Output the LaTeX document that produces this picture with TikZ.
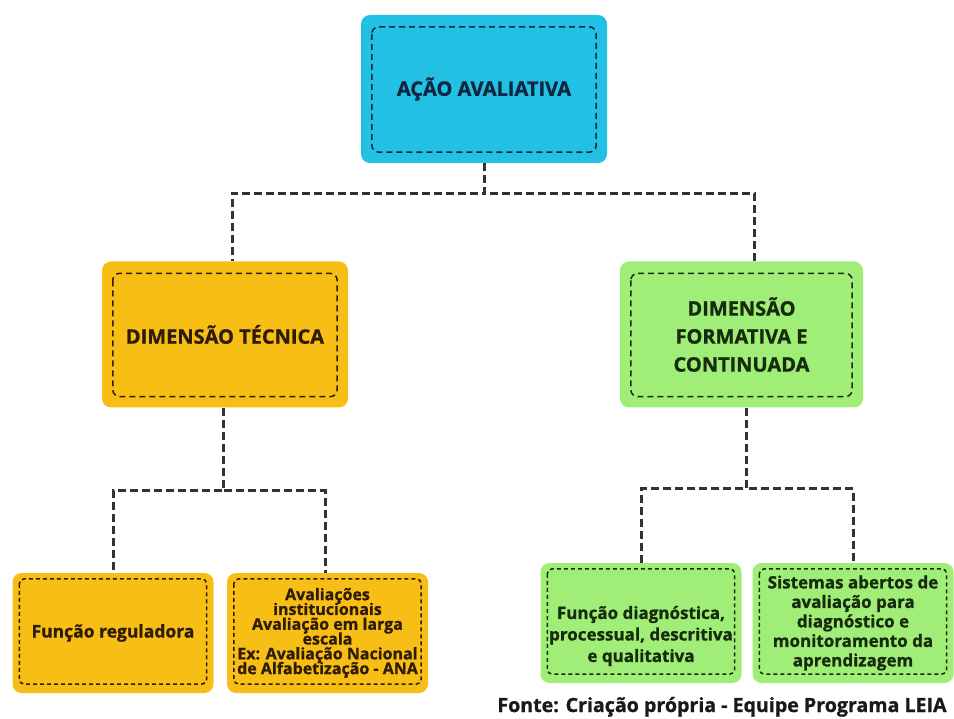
\documentclass[tikz,border=0pt]{standalone}
\usepackage{fontspec}
\setmainfont{Open Sans}[BoldFeatures={FakeBold=1}]
\usetikzlibrary{positioning}

\definecolor{ciano}{RGB}{34,193,227}
\definecolor{ouro}{RGB}{247,190,22}
\definecolor{verde}{RGB}{160,238,120}
\definecolor{marinho}{RGB}{14,38,66}
\definecolor{marrom}{RGB}{48,28,4}
\definecolor{musgo}{RGB}{22,44,12}
\newcommand\apertado{\lineskiplimit=-20pt\relax}

\begin{document}
\begin{tikzpicture}[x=1pt,y=-1pt,on grid,
    caixa/.style={rounded corners=9pt, align=center, inner sep=0pt},
    azul/.style={caixa, fill=ciano, text=marinho},
    amarela/.style={caixa, fill=ouro, text=marrom},
    verdinha/.style={caixa, fill=verde, text=musgo},
    grande/.style={minimum width=246pt, minimum height=146pt,
      font=\bfseries\fontsize{20}{28}\selectfont},
    pequena/.style={minimum width=201pt, minimum height=120pt},
    moldura/.style={draw=#1, line width=1.5pt, dash pattern=on 6pt off 4pt, rounded corners=7pt},
    tracinho/.style={draw=#1, line width=1.5pt, dash pattern=on 4pt off 3pt, rounded corners=5pt},
    link/.style={draw=black!80, line width=3pt, dash pattern=on 8pt off 4pt}]
  \useasboundingbox (0,0) rectangle (954,719);

  \node[azul,grande,minimum height=148pt] (acao) at (484,89) {AÇÃO AVALIATIVA};

  \node[amarela,grande] (tecnica) [below left=245.5pt and 259pt of acao] {DIMENSÃO TÉCNICA};
  \node[verdinha,grande,minimum width=243pt] (formativa) [below right=245.5pt and 257.5pt of acao]
    {DIMENSÃO\\FORMATIVA E\\CONTINUADA};

  \node[amarela,pequena,font=\bfseries\fontsize{17.5}{20}\selectfont] (regul)
    [below left=298.5pt and 112pt of tecnica] {\raisebox{-4pt}{Função reguladora}};
  \node[amarela,pequena,font=\bfseries\fontsize{16}{14.8}\selectfont\apertado] (inst)
    [below right=298.5pt and 102.5pt of tecnica]
    {Avaliações\\institucionais\\Avaliação em larga\\escala\\Ex: Avaliação Nacional\\de Alfabetização - ANA};

  \node[verdinha,pequena] (diag) [below left=288.5pt and 100.5pt of formativa] {};
  \node[text=musgo, align=center, font=\bfseries\fontsize{17}{21.5}\selectfont] (diagtxt)
    at ([yshift=-13pt]diag.center) {Função diagnóstica,\\processual, descritiva\\e qualitativa};
  \node[verdinha,pequena,font=\bfseries\fontsize{17}{19.5}\selectfont] (sist)
    [below right=288.5pt and 111.5pt of formativa]
    {Sistemas abertos de\\avaliação para\\diagnóstico e\\monitoramento da\\aprendizagem};

  \node[anchor=base, font=\bfseries\fontsize{19.6}{22}\selectfont, text=black!90] (fonte) at (722,712)
    {Fonte: Criação própria - Equipe Programa LEIA};

  % molduras tracejadas
  \foreach \n/\c in {acao/marinho, tecnica/marrom, formativa/musgo}
    \draw[moldura=\c] ([shift={(11pt,-12pt)}]\n.north west) rectangle ([shift={(-11pt,11pt)}]\n.south east);
  \foreach \n/\c in {regul/marrom, inst/marrom, diag/musgo, sist/musgo}
    \draw[tracinho=\c] ([shift={(7pt,-6pt)}]\n.north west) rectangle ([shift={(-7pt,9pt)}]\n.south east);

  % ligacoes
  \draw[link] (acao.south) -- ++(0,30) -| ([xshift=7pt]tecnica.north);
  \draw[link] (acao.south) -- ++(0,30) -| ([xshift=12.5pt]formativa.north);
  \draw[link] ([xshift=-2pt]tecnica.south) -- ++(0,83) -| (regul.north);
  \draw[link] ([xshift=-2pt]tecnica.south) -- ++(0,83) -| ([xshift=-2.5pt]inst.north);
  \draw[link] ([xshift=4.5pt]formativa.south) -- ++(0,81) -| (diag.north);
  \draw[link] ([xshift=4.5pt]formativa.south) -- ++(0,81) -| (sist.north);
\end{tikzpicture}
\end{document}
